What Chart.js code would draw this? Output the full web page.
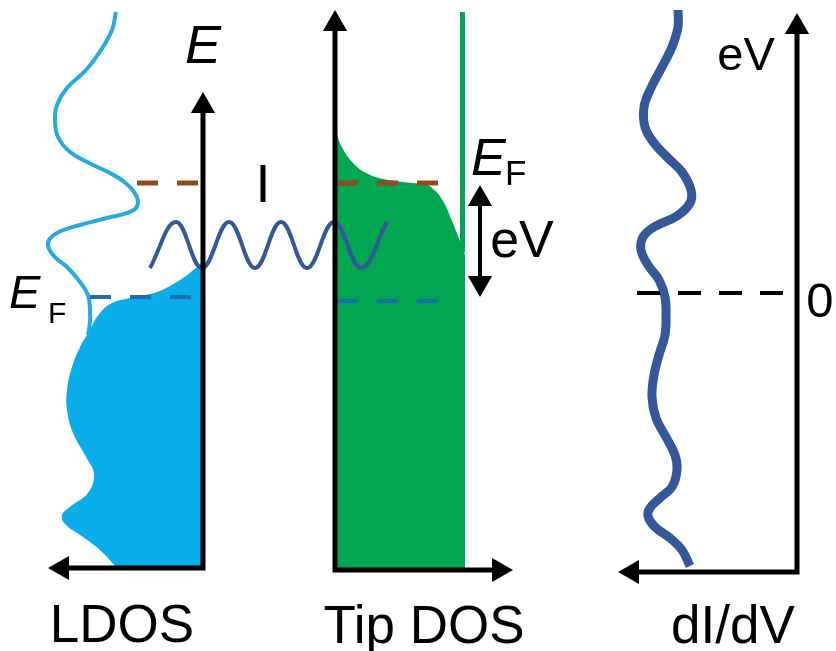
<!DOCTYPE html>
<html>
<head>
<meta charset="utf-8">
<script src="https://cdn.jsdelivr.net/npm/chart.js@4/dist/chart.umd.min.js"></script>
<style>
  html, body { margin: 0; padding: 0; background: #ffffff; }
  #wrap { width: 836px; height: 651px; position: relative; }
</style>
</head>
<body>
<div id="wrap"><canvas id="diagram"></canvas></div>
<script>
// Diagram units: x runs left → right, y (energy) is drawn with larger values lower down.

// Panel captions and symbols
const panelNames = ['LDOS', 'Tip DOS', 'dI/dV'];
const energySymbol = 'E';
const fermiSymbol = ['E', 'F'];
const currentSymbol = 'I';
const biasSymbol = 'eV';
const zeroBias = '0';

// Sample LDOS above the Fermi level (empty states)
const ldosCurve = [
  {x: 116, y: 12}, {x: 112, y: 30}, {x: 101, y: 50}, {x: 86, y: 70}, {x: 67, y: 88},
  {x: 57, y: 105}, {x: 55, y: 120}, {x: 58, y: 137}, {x: 70, y: 152}, {x: 89, y: 163},
  {x: 108, y: 172}, {x: 123, y: 181}, {x: 134, y: 192}, {x: 138, y: 203}, {x: 132, y: 211},
  {x: 107, y: 218}, {x: 80, y: 225}, {x: 57, y: 233}, {x: 48, y: 243}, {x: 53, y: 255},
  {x: 67, y: 267}, {x: 80, y: 282}, {x: 88, y: 295}, {x: 90, y: 310}, {x: 90, y: 322},
  {x: 88, y: 335}
];

// Occupied sample states (filled up to the axis)
const ldosOccupied = [
  {x: 203, y: 262}, {x: 196, y: 268}, {x: 180, y: 280}, {x: 157, y: 292}, {x: 130, y: 298},
  {x: 110, y: 304}, {x: 97, y: 317}, {x: 89, y: 332}, {x: 81, y: 345}, {x: 72, y: 367},
  {x: 67, y: 390}, {x: 67, y: 410}, {x: 73, y: 433}, {x: 86, y: 457}, {x: 94, y: 474},
  {x: 88, y: 493}, {x: 71, y: 506}, {x: 62, y: 515}, {x: 65, y: 524}, {x: 83, y: 537},
  {x: 100, y: 550}, {x: 117, y: 568}
];

// Tip density of states (occupied part) and its flat empty-state tail
const tipOccupied = [
  {x: 335, y: 125}, {x: 338, y: 138}, {x: 344, y: 151}, {x: 353, y: 163}, {x: 366, y: 173},
  {x: 383, y: 179}, {x: 403, y: 182}, {x: 422, y: 184}, {x: 434, y: 190}, {x: 443, y: 201},
  {x: 450, y: 216}, {x: 456, y: 231}, {x: 461, y: 244}, {x: 465, y: 256}, {x: 465, y: 400},
  {x: 465, y: 570}
];
const tipTail = [{x: 462.5, y: 12}, {x: 462.5, y: 252}];

// Measured differential conductance
const didvCurve = [
  {x: 678, y: 10}, {x: 678, y: 27}, {x: 672, y: 47}, {x: 662, y: 67}, {x: 651, y: 88},
  {x: 644, y: 107}, {x: 645, y: 127}, {x: 654, y: 143}, {x: 668, y: 158}, {x: 682, y: 172},
  {x: 691, y: 190}, {x: 690, y: 203}, {x: 677, y: 216}, {x: 654, y: 227}, {x: 643, y: 237},
  {x: 641, y: 250}, {x: 648, y: 265}, {x: 659, y: 280}, {x: 665, y: 297}, {x: 666, y: 315},
  {x: 665, y: 335}, {x: 659, y: 355}, {x: 654, y: 375}, {x: 652, y: 397}, {x: 656, y: 418},
  {x: 666, y: 437}, {x: 675, y: 455}, {x: 677, y: 470}, {x: 672, y: 487}, {x: 660, y: 498},
  {x: 650, y: 508}, {x: 648, y: 516}, {x: 655, y: 527}, {x: 670, y: 538}, {x: 682, y: 550},
  {x: 690, y: 566}
];

// Tunnelling current (crests and troughs)
const tunnelWave = [
  {x: 150, y: 268}, {x: 176, y: 222}, {x: 202, y: 268}, {x: 229, y: 222}, {x: 255, y: 268},
  {x: 281, y: 222}, {x: 307, y: 268}, {x: 334, y: 222}, {x: 361, y: 268}, {x: 387, y: 222}
];

// Energy levels
const tipFermiLeft = [{x: 137, y: 183}, {x: 203, y: 183}];
const tipFermiRight = [{x: 337, y: 183}, {x: 445, y: 183}];
const sampleFermiLeft = [{x: 90, y: 297}, {x: 200, y: 297}];
const sampleFermiRight = [{x: 337, y: 301}, {x: 447, y: 301}];
const zeroBiasLevel = [{x: 637, y: 293}, {x: 790, y: 293}];

// Axes: arrow tip, origin, arrow tip
const ldosAxes = [{x: 203, y: 92}, {x: 203, y: 568}, {x: 48, y: 568}];
const tipAxes = [{x: 335, y: 10}, {x: 335, y: 570}, {x: 513, y: 570}];
const didvAxes = [{x: 797, y: 13}, {x: 797, y: 572}, {x: 618, y: 572}];
const biasArrow = [{x: 480, y: 185}, {x: 480, y: 297}];

// ---- styling ----
const HEAD = 14;
const C_LDOS_LINE = '#27a9e1';
const C_LDOS_FILL = '#08ade9';
const C_TIP = '#00a650';
const C_WAVE = '#35589a';
const C_BROWN = '#934a20';
const C_BLUE_DASH = '#1e6cb2';

// Pull each arrow end back by the head size so the shaft ends inside the head.
function arrowParts(path, atStart, atEnd) {
  const pts = path.map(p => ({x: p.x, y: p.y}));
  const heads = [];
  const rot = [];
  const pull = (i, j) => {
    const a = path[i], b = path[j];
    const dx = a.x - b.x, dy = a.y - b.y;
    const len = Math.hypot(dx, dy);
    const ux = dx / len, uy = dy / len;
    const c = {x: a.x - ux * HEAD, y: a.y - uy * HEAD};
    pts[i] = c;
    heads.push(c);
    rot.push(Math.atan2(ux, -uy) * 180 / Math.PI);
  };
  if (atStart) pull(0, 1);
  if (atEnd) pull(path.length - 1, path.length - 2);
  return {pts, heads, rot};
}

const axisSets = [
  arrowParts(ldosAxes, true, true),
  arrowParts(tipAxes, true, true),
  arrowParts(didvAxes, true, true),
  arrowParts(biasArrow, true, true)
];

const datasets = [];

// filled densities
datasets.push({
  data: ldosOccupied, indexAxis: 'y', fill: {value: 203},
  backgroundColor: C_LDOS_FILL, borderWidth: 0, pointRadius: 0, tension: 0.4, order: 20
});
datasets.push({
  data: tipOccupied, indexAxis: 'y', fill: {value: 335},
  backgroundColor: C_TIP, borderWidth: 0, pointRadius: 0, cubicInterpolationMode: 'monotone', order: 20
});

// curves
datasets.push({data: ldosCurve, borderColor: C_LDOS_LINE, borderWidth: 4, pointRadius: 0, tension: 0.4, fill: false, order: 15});
datasets.push({data: tipTail, borderColor: C_TIP, borderWidth: 5, pointRadius: 0, fill: false, order: 15});
datasets.push({data: didvCurve, borderColor: C_WAVE, borderWidth: 9, pointRadius: 0, tension: 0.4, fill: false, order: 15});

// levels
const dash = [21, 19];
datasets.push({data: tipFermiLeft, borderColor: C_BROWN, borderWidth: 5, borderDash: dash, pointRadius: 0, fill: false, order: 12});
datasets.push({data: tipFermiRight, borderColor: C_BROWN, borderWidth: 5, borderDash: dash, pointRadius: 0, fill: false, order: 12});
datasets.push({data: sampleFermiLeft, borderColor: C_BLUE_DASH, borderWidth: 4, borderDash: dash, pointRadius: 0, fill: false, order: 12});
datasets.push({data: sampleFermiRight, borderColor: C_BLUE_DASH, borderWidth: 4, borderDash: dash, pointRadius: 0, fill: false, order: 12});
datasets.push({data: zeroBiasLevel, borderColor: '#000000', borderWidth: 4, borderDash: [23, 18], pointRadius: 0, fill: false, order: 12});

// tunnelling wave
datasets.push({data: tunnelWave, borderColor: C_WAVE, borderWidth: 4, pointRadius: 0, tension: 0.4, fill: false, order: 10});

// axes and arrow heads
axisSets.forEach((a, k) => {
  datasets.push({
    data: a.pts, borderColor: '#000000', borderWidth: k === 3 ? 4 : 5, borderJoinStyle: 'miter',
    pointRadius: 0, fill: false, order: 5
  });
  datasets.push({
    data: a.heads, showLine: false, pointStyle: 'triangle', pointRotation: a.rot,
    pointRadius: HEAD, pointBackgroundColor: '#000000', pointBorderWidth: 0, fill: false, order: 4
  });
});

const FONT = '"Liberation Sans", Arial, sans-serif';

const labelPlugin = {
  id: 'diagramLabels',
  afterDatasetsDraw(chart) {
    const {ctx} = chart;
    const {x, y} = chart.scales;
    const put = (text, vx, vy, font, align) => {
      ctx.font = font;
      ctx.textAlign = align || 'center';
      ctx.textBaseline = 'alphabetic';
      ctx.fillStyle = '#000000';
      ctx.fillText(text, x.getPixelForValue(vx), y.getPixelForValue(vy));
    };
    ctx.save();
    // panel captions
    put(panelNames[0], 122, 642, '53px ' + FONT);
    put(panelNames[1], 424, 643, '53px ' + FONT);
    put(panelNames[2], 733, 643, '53px ' + FONT);
    // energy axis symbol
    put(energySymbol, 203, 63, 'italic 54px ' + FONT);
    // Fermi levels
    put(fermiSymbol[0], 9, 308, 'italic 47px ' + FONT, 'left');
    put(fermiSymbol[1], 48, 323, '30px ' + FONT, 'left');
    put(fermiSymbol[0], 471, 175, 'italic 52px ' + FONT, 'left');
    put(fermiSymbol[1], 505, 185, '35px ' + FONT, 'left');
    // current and bias
    put(currentSymbol, 263, 202, '54px ' + FONT);
    put(biasSymbol, 522, 257, '52px ' + FONT);
    put(biasSymbol, 746, 70, '47px ' + FONT);
    put(zeroBias, 820, 317, '49px ' + FONT);
    ctx.restore();
  }
};

new Chart(document.getElementById('diagram'), {
  type: 'line',
  data: {datasets},
  options: {
    responsive: true,
    maintainAspectRatio: false,
    animation: false,
    events: [],
    layout: {padding: 0, autoPadding: false},
    scales: {
      x: {type: 'linear', min: 0, max: 836, display: false},
      y: {type: 'linear', min: 0, max: 651, reverse: true, display: false}
    },
    plugins: {legend: {display: false}, tooltip: {enabled: false}, title: {display: false}}
  },
  plugins: [labelPlugin]
});
</script>
</body>
</html>
